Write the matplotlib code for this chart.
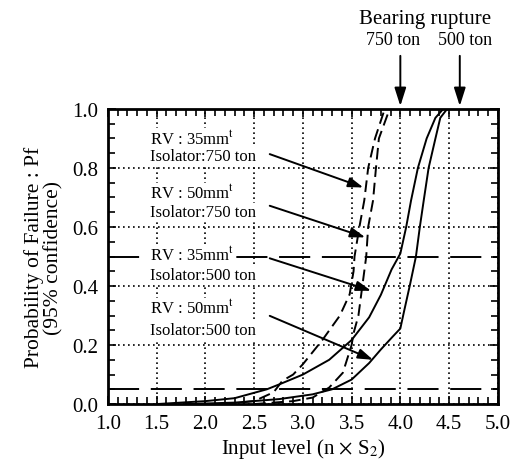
import matplotlib
matplotlib.use('Agg')
import matplotlib.pyplot as plt
from matplotlib.ticker import MultipleLocator

# curve data
s35_500_x = [1.5, 2.0, 2.3, 2.63, 2.76, 3.0, 3.27, 3.5, 3.68, 3.8, 3.91, 4.0, 4.06, 4.11, 4.18, 4.27, 4.36, 4.44]
s35_500_y = [0.0, 0.01, 0.02, 0.05, 0.067, 0.1, 0.15, 0.217, 0.294, 0.37, 0.456, 0.51, 0.6, 0.69, 0.8, 0.9, 0.97, 1.0]

s50_500_x = [1.8, 2.3, 2.76, 3.1, 3.3, 3.5, 3.68, 3.8, 3.92, 4.0, 4.04, 4.1, 4.16, 4.2, 4.24, 4.29, 4.36, 4.41, 4.48]
s50_500_y = [0.0, 0.005, 0.017, 0.033, 0.05, 0.083, 0.139, 0.185, 0.228, 0.256, 0.317, 0.406, 0.5, 0.6, 0.69, 0.8, 0.9, 0.97, 1.0]

d35_750_x = [2.2, 2.5, 2.7, 2.79, 2.9, 3.0, 3.2, 3.38, 3.48, 3.52, 3.53, 3.58, 3.63, 3.67, 3.74, 3.84]
d35_750_y = [0.0, 0.01, 0.04, 0.079, 0.1, 0.135, 0.217, 0.3, 0.372, 0.45, 0.5, 0.6, 0.69, 0.8, 0.9, 1.0]

d50_750_x = [2.5, 2.9, 3.1, 3.27, 3.41, 3.5, 3.52, 3.57, 3.61, 3.65, 3.67, 3.72, 3.75, 3.78, 3.89]
d50_750_y = [0.0, 0.01, 0.022, 0.056, 0.106, 0.2, 0.24, 0.3, 0.4, 0.5, 0.6, 0.69, 0.8, 0.9, 1.0]

ref_levels = [0.5, 0.05]
rupture_x = [4.0, 4.61]
rupture_labels = ['750 ton', '500 ton']

labels = [('RV : 35mm$^{\\mathrm{t}}$', 'Isolator:750 ton'),
          ('RV : 50mm$^{\\mathrm{t}}$', 'Isolator:750 ton'),
          ('RV : 35mm$^{\\mathrm{t}}$', 'Isolator:500 ton'),
          ('RV : 50mm$^{\\mathrm{t}}$', 'Isolator:500 ton')]
label_y = [(0.90, 0.84), (0.715, 0.65), (0.505, 0.437), (0.325, 0.25)]
arrow_tail = [(2.66, 0.847), (2.66, 0.672), (2.66, 0.494), (2.66, 0.299)]
arrow_tip = [(3.62, 0.734), (3.64, 0.565), (3.70, 0.384), (3.72, 0.15)]

plt.rcParams['font.family'] = ['Liberation Serif', 'DejaVu Serif']
plt.rcParams['mathtext.fontset'] = 'stix'

fig = plt.figure(figsize=(5.24, 4.64), dpi=100)
ax = fig.add_axes([0.206, 0.127, 0.744, 0.636])

for lv in ref_levels:
    ax.axhline(lv, color='black', lw=1.4, dashes=(16, 6), zorder=1)

ax.plot(s35_500_x, s35_500_y, color='black', lw=1.4, zorder=3)
ax.plot(s50_500_x, s50_500_y, color='black', lw=1.4, zorder=3)
ax.plot(d35_750_x, d35_750_y, color='black', lw=1.4, dashes=(6, 3), zorder=3)
ax.plot(d50_750_x, d50_750_y, color='black', lw=1.4, dashes=(6, 3), zorder=3)

for (l1, l2), (y1, y2) in zip(labels, label_y):
    ax.text(1.43, y1, l1, fontsize=12, va='center', ha='left', zorder=4,
            bbox=dict(facecolor='white', edgecolor='none', pad=1))
    ax.text(1.43, y2, l2, fontsize=12, va='center', ha='left', zorder=4,
            bbox=dict(facecolor='white', edgecolor='none', pad=1))

for tail, tip in zip(arrow_tail, arrow_tip):
    ax.annotate('', xy=tip, xytext=tail, zorder=5,
                arrowprops=dict(arrowstyle='-|>,head_length=0.9,head_width=0.3',
                                color='black', lw=1.4, shrinkA=0, shrinkB=0))

# bearing rupture markers above the axes
for xv in rupture_x:
    ax.annotate('', xy=(xv, 1.01), xytext=(xv, 1.18), xycoords='data',
                annotation_clip=False,
                arrowprops=dict(arrowstyle='-|>,head_length=1.1,head_width=0.35',
                                color='black', lw=1.4, shrinkA=0, shrinkB=0))
ax.text(3.93, 1.235, rupture_labels[0], fontsize=13, ha='center', va='center', clip_on=False)
ax.text(4.66, 1.235, rupture_labels[1], fontsize=13, ha='center', va='center', clip_on=False)
ax.text(4.25, 1.305, 'Bearing rupture', fontsize=15, ha='center', va='center', clip_on=False)

ax.set_xlim(1.0, 5.0)
ax.set_ylim(0.0, 1.0)
ax.xaxis.set_major_locator(MultipleLocator(0.5))
ax.xaxis.set_minor_locator(MultipleLocator(0.1))
ax.yaxis.set_major_locator(MultipleLocator(0.2))
ax.yaxis.set_minor_locator(MultipleLocator(0.05))
ax.xaxis.set_major_formatter(plt.FormatStrFormatter('%.1f'))
ax.yaxis.set_major_formatter(plt.FormatStrFormatter('%.1f'))
ax.tick_params(which='both', direction='in', top=True, right=True, width=1.2, labelsize=15)
ax.tick_params(which='major', length=6, pad=7)
ax.tick_params(which='minor', length=5)
ax.grid(True, which='major', color='black', linestyle=(0, (1, 2)), lw=1.2)
for sp in ax.spines.values():
    sp.set_linewidth(2)

ax.set_xlabel('Input level (n $\\times$ S$_2$)', fontsize=15, labelpad=2)
ax.set_ylabel('Probability of Failure : Pf\n(95% confidence)', fontsize=15.5, labelpad=6,
              linespacing=1.05)

plt.savefig('out.png', dpi=100)
